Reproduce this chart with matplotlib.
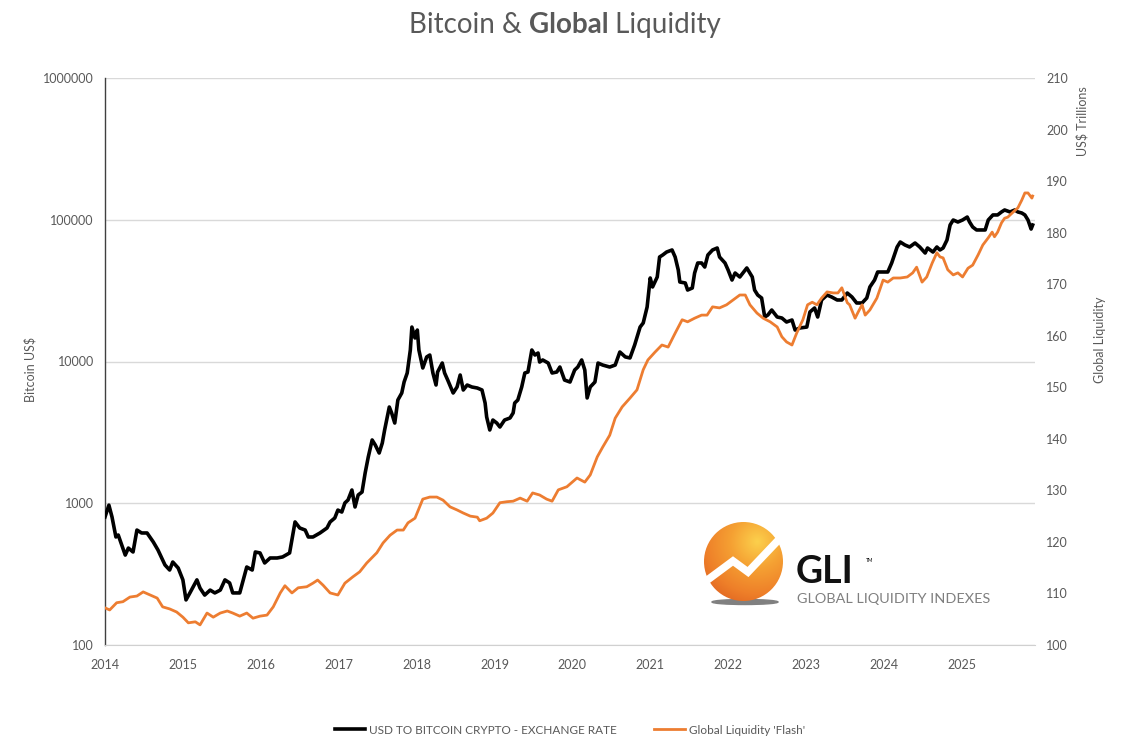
import matplotlib
matplotlib.use("Agg")
import matplotlib.pyplot as plt
import numpy as np
from matplotlib.colors import LinearSegmentedColormap
from matplotlib.patches import Circle, Ellipse

# Bitcoin (USD), decimal year
btc_years = [
    2014.00, 2014.05, 2014.09, 2014.14, 2014.17, 2014.26, 2014.30, 2014.36, 2014.41, 2014.47,
    2014.54, 2014.62, 2014.68, 2014.77, 2014.83, 2014.87, 2014.94, 2015.00, 2015.04, 2015.09,
    2015.18, 2015.22, 2015.28, 2015.35, 2015.41, 2015.48, 2015.54, 2015.60, 2015.64, 2015.73,
    2015.82, 2015.89, 2015.93, 2015.99, 2016.05, 2016.12, 2016.21, 2016.28, 2016.37, 2016.44,
    2016.50, 2016.57, 2016.61, 2016.67, 2016.76, 2016.85, 2016.89, 2016.95, 2016.99, 2017.04,
    2017.08, 2017.12, 2017.17, 2017.21, 2017.25, 2017.30, 2017.34, 2017.38, 2017.43, 2017.47,
    2017.52, 2017.56, 2017.59, 2017.65, 2017.68, 2017.72, 2017.76, 2017.81, 2017.84, 2017.88,
    2017.92, 2017.94, 2017.98, 2018.01, 2018.03, 2018.08, 2018.13, 2018.17, 2018.21, 2018.25,
    2018.27, 2018.33, 2018.36, 2018.40, 2018.47, 2018.52, 2018.56, 2018.60, 2018.65, 2018.71,
    2018.78, 2018.84, 2018.88, 2018.90, 2018.94, 2018.98, 2019.03, 2019.07, 2019.13, 2019.20,
    2019.24, 2019.26, 2019.30, 2019.35, 2019.39, 2019.43, 2019.48, 2019.52, 2019.56, 2019.58,
    2019.62, 2019.69, 2019.74, 2019.80, 2019.84, 2019.90, 2019.97, 2020.03, 2020.07, 2020.12,
    2020.16, 2020.19, 2020.23, 2020.29, 2020.33, 2020.39, 2020.48, 2020.55, 2020.61, 2020.68,
    2020.74, 2020.80, 2020.87, 2020.91, 2020.96, 2021.00, 2021.03, 2021.09, 2021.12, 2021.16,
    2021.21, 2021.28, 2021.32, 2021.36, 2021.38, 2021.45, 2021.48, 2021.54, 2021.57, 2021.61,
    2021.66, 2021.70, 2021.74, 2021.80, 2021.86, 2021.89, 2021.96, 2022.00, 2022.05, 2022.09,
    2022.15, 2022.19, 2022.24, 2022.31, 2022.34, 2022.38, 2022.43, 2022.47, 2022.51, 2022.56,
    2022.63, 2022.69, 2022.75, 2022.82, 2022.86, 2022.92, 2023.01, 2023.05, 2023.11, 2023.15,
    2023.20, 2023.27, 2023.33, 2023.40, 2023.46, 2023.53, 2023.59, 2023.65, 2023.72, 2023.78,
    2023.82, 2023.88, 2023.92, 2023.99, 2024.05, 2024.10, 2024.17, 2024.21, 2024.27, 2024.33,
    2024.40, 2024.46, 2024.53, 2024.56, 2024.63, 2024.68, 2024.72, 2024.76, 2024.81, 2024.85,
    2024.89, 2024.95, 2025.01, 2025.07, 2025.10, 2025.14, 2025.19, 2025.26, 2025.30, 2025.34,
    2025.40, 2025.46, 2025.51, 2025.55, 2025.62, 2025.68, 2025.72, 2025.77, 2025.81, 2025.85,
    2025.89, 2025.91,
]
btc_price = [
    800, 970, 800, 578, 597, 431, 483, 453, 647, 617,
    617, 533, 468, 367, 338, 385, 349, 288, 208, 233,
    288, 252, 225, 244, 233, 244, 288, 274, 233, 233,
    355, 338, 453, 446, 379, 411, 411, 418, 446, 738,
    669, 647, 578, 578, 617, 669, 738, 787, 895, 867,
    1005, 1054, 1240, 941, 1143, 1200, 1635, 2120, 2795, 2575,
    2262, 2660, 3287, 4775, 4335, 3680, 5350, 5995, 7165, 8295,
    12050, 17500, 14650, 16670, 12050, 9000, 10770, 11110, 8295, 6825,
    8430, 9755, 8295, 7400, 5995, 6610, 8030, 6295, 6825, 6610,
    6500, 6295, 5095, 4060, 3287, 3865, 3680, 3450, 3865, 3995,
    4335, 5095, 5350, 6610, 8295, 8430, 12050, 11110, 11480, 9910,
    10250, 9755, 8295, 8430, 9140, 7400, 7165, 8710, 9140, 10250,
    8710, 5530, 6610, 7165, 9755, 9440, 9140, 9440, 11670, 10770,
    10590, 13070, 17500, 18700, 24220, 38830, 33560, 39460, 54600, 56400,
    59200, 61200, 54600, 44200, 36370, 35800, 31930, 33000, 42100, 49550,
    49550, 46400, 56400, 61200, 63200, 54600, 49550, 44200, 37570, 42100,
    39460, 42100, 45700, 39460, 31930, 29440, 28050, 20600, 21280, 23080,
    20600, 20270, 18990, 19620, 16670, 17230, 17500, 22340, 23850, 20600,
    27160, 29440, 28510, 27160, 27160, 30410, 28510, 25870, 25870, 28050,
    33560, 37570, 42800, 42800, 42800, 49550, 64250, 69660, 66370, 64250,
    68550, 64250, 58240, 63200, 59200, 64250, 61200, 63200, 71950, 91830,
    99600, 96400, 99600, 104500, 96400, 88900, 84700, 84700, 84700, 99600,
    108100, 108100, 113500, 117200, 113500, 117200, 113500, 111600, 108100, 99600,
    86000, 91830,
]

# Global Liquidity 'Flash' (US$ trillions), decimal year
gl_years = [
    2014.00, 2014.06, 2014.15, 2014.23, 2014.32, 2014.41, 2014.49, 2014.58, 2014.67, 2014.74,
    2014.83, 2014.92, 2015.00, 2015.07, 2015.16, 2015.22, 2015.31, 2015.39, 2015.48, 2015.57,
    2015.64, 2015.73, 2015.82, 2015.90, 2015.99, 2016.08, 2016.16, 2016.25, 2016.31, 2016.40,
    2016.48, 2016.59, 2016.67, 2016.73, 2016.80, 2016.89, 2016.99, 2017.08, 2017.18, 2017.27,
    2017.36, 2017.49, 2017.57, 2017.66, 2017.75, 2017.83, 2017.89, 2017.98, 2018.04, 2018.08,
    2018.17, 2018.26, 2018.34, 2018.43, 2018.52, 2018.60, 2018.69, 2018.78, 2018.81, 2018.90,
    2018.98, 2019.07, 2019.16, 2019.24, 2019.33, 2019.42, 2019.49, 2019.58, 2019.67, 2019.74,
    2019.82, 2019.93, 2020.06, 2020.16, 2020.23, 2020.32, 2020.39, 2020.48, 2020.55, 2020.64,
    2020.74, 2020.83, 2020.91, 2020.97, 2021.06, 2021.15, 2021.23, 2021.32, 2021.41, 2021.48,
    2021.57, 2021.66, 2021.73, 2021.80, 2021.89, 2021.98, 2022.06, 2022.15, 2022.22, 2022.28,
    2022.37, 2022.45, 2022.54, 2022.63, 2022.69, 2022.75, 2022.82, 2022.88, 2022.96, 2023.02,
    2023.08, 2023.14, 2023.20, 2023.27, 2023.35, 2023.41, 2023.46, 2023.53, 2023.56, 2023.63,
    2023.67, 2023.72, 2023.76, 2023.82, 2023.91, 2023.99, 2024.05, 2024.12, 2024.21, 2024.30,
    2024.37, 2024.42, 2024.49, 2024.55, 2024.62, 2024.68, 2024.72, 2024.76, 2024.82, 2024.89,
    2024.95, 2025.01, 2025.08, 2025.14, 2025.21, 2025.27, 2025.34, 2025.39, 2025.42, 2025.46,
    2025.51, 2025.55, 2025.59, 2025.66, 2025.72, 2025.77, 2025.81, 2025.85, 2025.90, 2025.91,
]
gl_value = [
    107.2, 106.8, 108.2, 108.4, 109.3, 109.5, 110.3, 109.7, 109.1, 107.4,
    107.0, 106.4, 105.4, 104.3, 104.5, 103.9, 106.2, 105.4, 106.2, 106.6,
    106.2, 105.6, 106.2, 105.2, 105.6, 105.8, 107.4, 110.1, 111.5, 110.1,
    111.1, 111.3, 112.0, 112.6, 111.6, 110.1, 109.7, 112.0, 113.2, 114.2,
    115.9, 117.9, 119.8, 121.3, 122.3, 122.3, 123.7, 124.6, 126.8, 128.3,
    128.7, 128.7, 128.1, 126.8, 126.2, 125.6, 125.0, 124.8, 124.1, 124.6,
    125.6, 127.6, 127.8, 127.9, 128.5, 127.9, 129.5, 129.1, 128.3, 127.9,
    130.1, 130.7, 132.4, 131.6, 133.0, 136.5, 138.4, 140.7, 144.0, 146.2,
    147.9, 149.5, 153.4, 155.3, 156.8, 158.2, 157.8, 160.5, 163.1, 162.7,
    163.4, 164.0, 164.0, 165.6, 165.4, 166.0, 166.9, 167.9, 167.9, 166.0,
    164.4, 163.4, 162.7, 161.7, 159.8, 158.8, 158.2, 160.5, 163.1, 166.0,
    166.5, 166.0, 167.3, 168.5, 168.3, 168.3, 169.3, 166.4, 166.0, 163.4,
    164.6, 166.0, 164.0, 165.0, 167.3, 170.8, 170.4, 171.2, 171.2, 171.4,
    172.2, 173.3, 170.4, 171.4, 174.1, 176.1, 175.3, 175.1, 172.8, 171.8,
    172.2, 171.4, 173.1, 173.7, 175.7, 177.6, 179.0, 180.1, 179.2, 180.1,
    181.9, 182.8, 183.0, 184.0, 184.8, 186.3, 187.7, 187.7, 186.7, 187.1,
]

year_ticks = list(range(2014, 2026))
btc_ticks = [100, 1000, 10000, 100000, 1000000]
gl_ticks = list(range(100, 211, 10))

TXT = "#595959"
FONT = ["Lato", "DejaVu Sans"]
plt.rcParams["font.family"] = FONT

fig = plt.figure(figsize=(11.26, 7.48), dpi=100)
ax = fig.add_axes([105 / 1126, 1 - 645 / 748, 930 / 1126, 567 / 748])

ax.plot(btc_years, btc_price, color="black", lw=2.6, solid_joinstyle="round",
        label="USD TO BITCOIN CRYPTO - EXCHANGE RATE", zorder=3)
ax.set_yscale("log")
ax.set_ylim(100, 1000000)
ax.set_xlim(2014, 2025.94)
ax.set_yticks(btc_ticks)
ax.set_yticklabels([str(t) for t in btc_ticks])
ax.minorticks_off()
ax.set_xticks(year_ticks)
ax.set_xticklabels([str(y) for y in year_ticks])
ax.grid(axis="y", color="#d9d9d9", lw=1)
ax.set_axisbelow(True)
ax.tick_params(axis="both", length=0, colors=TXT, labelsize=9)
ax.tick_params(axis="y", pad=8)
ax.tick_params(axis="x", pad=10)
for s in ["top", "right"]:
    ax.spines[s].set_visible(False)
ax.spines["left"].set_color("#404040")
ax.spines["left"].set_linewidth(1.0)
ax.spines["bottom"].set_color("#d0d0d0")

ax2 = ax.twinx()
ax2.plot(gl_years, gl_value, color="#ED7D31", lw=2.0, solid_joinstyle="round",
         label="Global Liquidity 'Flash'", zorder=4)
ax2.set_ylim(100, 210)
ax2.set_yticks(gl_ticks)
ax2.tick_params(axis="y", length=0, colors=TXT, labelsize=9, pad=8)
for s in ax2.spines.values():
    s.set_visible(False)

# axis titles
fig.text(30 / 1126, 1 - 369 / 748, "Bitcoin US$", rotation=90, ha="center", va="center",
         color=TXT, fontsize=9)
fig.text(1082 / 1126, 1 - 121 / 748, "US$ Trillions", rotation=90, ha="center", va="center",
         color=TXT, fontsize=9)
fig.text(1100 / 1126, 1 - 340 / 748, "Global Liquidity", rotation=90, ha="center", va="center",
         color=TXT, fontsize=9)

# title with bold middle word
parts = [("Bitcoin & ", "normal"), ("Global", "bold"), (" Liquidity", "normal")]
fig.canvas.draw()
renderer = fig.canvas.get_renderer()
texts = []
widths = []
for s, w in parts:
    t = fig.text(0, 1 - 33 / 748, s, fontsize=20, fontweight=w, color=TXT, va="baseline")
    widths.append(t.get_window_extent(renderer).width)
    texts.append(t)
x0 = 565 - sum(widths) / 2
for t, w in zip(texts, widths):
    t.set_x(x0 / 1126)
    x0 += w

# legend
h1, l1 = ax.get_legend_handles_labels()
h2, l2 = ax2.get_legend_handles_labels()
leg = fig.legend(h1 + h2, l1 + l2, loc="center", bbox_to_anchor=(0.506, 1 - 730 / 748),
                 ncol=2, frameon=False, fontsize=8.5, handlelength=2.6, columnspacing=3.2,
                 handletextpad=0.3)
for t in leg.get_texts():
    t.set_color(TXT)

# GLI logo
lax = fig.add_axes([700 / 1126, 1 - 612 / 748, 300 / 1126, 100 / 748])
lax.set_xlim(700, 1000)
lax.set_ylim(612, 512)
lax.axis("off")
cx, cy, r = 743.5, 561.5, 39.5
lax.add_patch(Ellipse((745, 602), 66, 5, color="#808080", zorder=1))
gx, gy = np.meshgrid(np.linspace(cx - r, cx + r, 200), np.linspace(cy - r, cy + r, 200))
dist = np.hypot(gx - (cx + 14), gy - (cy - 20)) / (2.0 * r)
cmap = LinearSegmentedColormap.from_list("gli", ["#fcd04c", "#f5a133", "#ee7f29", "#d9561d"])
im = lax.imshow(dist, cmap=cmap, extent=(cx - r, cx + r, cy + r, cy - r), zorder=2,
                interpolation="bilinear", vmin=0, vmax=1)
clip = Circle((cx, cy), r, transform=lax.transData)
im.set_clip_path(clip)
zig_x = [702, 733, 748, 786]
zig_y = [584, 561, 572, 532]
lax.plot(zig_x, zig_y, color="white", lw=5.5, solid_joinstyle="miter", zorder=3)
lax.text(796, 583, "GLI", fontsize=27, fontweight="bold", color="#111111",
         va="baseline", ha="left", zorder=3)
lax.text(866, 562, "TM", fontsize=3.5, color="black", va="baseline", ha="left", zorder=3)
lax.text(797, 603, "GLOBAL LIQUIDITY INDEXES", fontsize=10.4, color="#7f7f7f",
         va="baseline", ha="left", zorder=3)

fig.savefig("out.png", dpi=100)
